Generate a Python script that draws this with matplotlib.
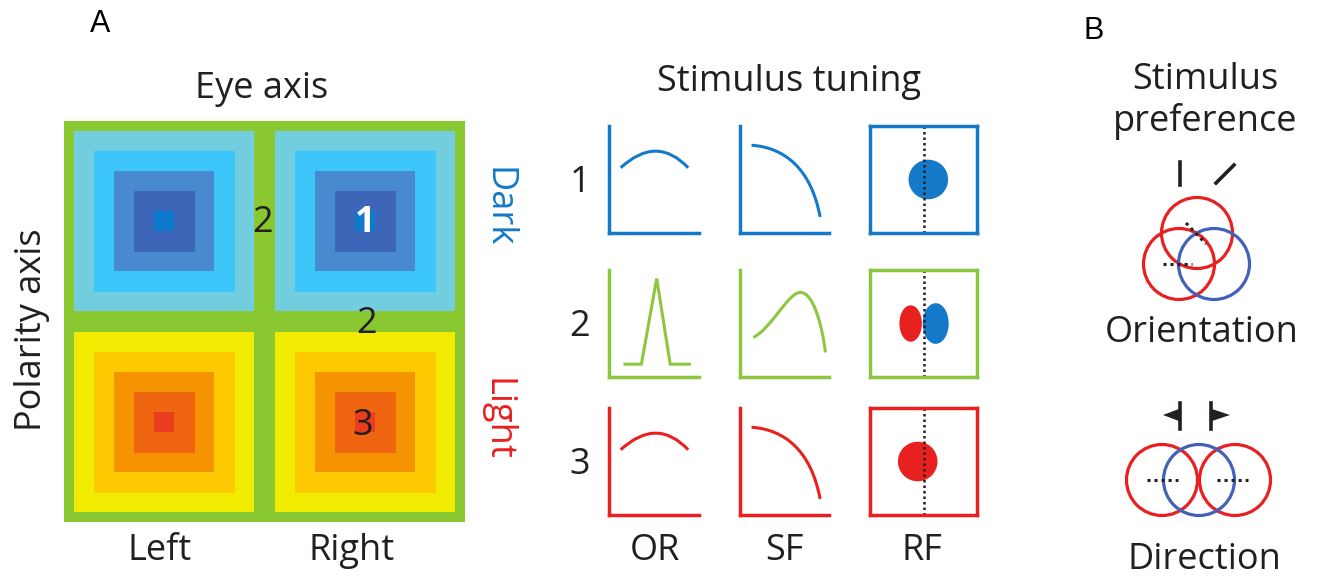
import matplotlib.pyplot as plt
from matplotlib.patches import Rectangle, Circle, Ellipse, Polygon, PathPatch
from matplotlib.path import Path

plt.rcParams['font.family'] = ['Open Sans', 'DejaVu Sans']

W, H = 1319, 578
FS = 26
INK = '#231f20'
BLUE = '#1479c8'
GREEN = '#8dc63f'
RED = '#e8201f'
B_BLUE = '#4262b8'

# nested response zones, outermost first
dark_colors = ['#72cddf', '#3cc6fa', '#4889d0', '#3d65b8', '#0d7bcb']
light_colors = ['#f0eb00', '#fdc900', '#f59300', '#f06510', '#ea3d1e']
eye_labels = ['Left', 'Right']
polarity_labels = ['Dark', 'Light']
cell_tags = ['2', '1', '2', '3']

# tuning sketches, coordinates in percent of each small panel
row_names = ['1', '2', '3']
col_names = ['OR', 'SF', 'RF']
row_colors = [BLUE, GREEN, RED]
or_arc = [(13, 61), (53, 92), (88, 61)]
or_peak = [(16, 12), (36, 12), (53, 92), (68, 12), (91, 12)]
sf_decay = [(13, 82), (50, 80), (80, 60), (90, 15)]
sf_hump = [(15, 37), (35, 45), (55, 80), (68, 79), (82, 79), (92, 50), (96, 23)]
or_curves = [or_arc, or_peak, or_arc]
sf_curves = [sf_decay, sf_hump, sf_decay]
# (x, y, width, height, colour) of the receptive field blobs
rf_blobs = [
    [(54.5, 50, 37, 37, BLUE)],
    [(38, 50, 21, 34, RED), (61.4, 50, 24.3, 38, BLUE)],
    [(44.6, 50, 37, 37, RED)],
]

fig = plt.figure(figsize=(W / 100, H / 100), dpi=100)
ax = fig.add_axes([0, 0, 1, 1])
ax.set_xlim(0, W)
ax.set_ylim(H, 0)
ax.axis('off')

# ---- panel A, left: eye x polarity map
ax.add_patch(Rectangle((64, 121), 401, 401, color='#8ac832', lw=0))
sizes = [180, 141, 100, 61, 20]
centers = [(164, 221), (365, 221), (164, 422), (365, 422)]
for i, (cx, cy) in enumerate(centers):
    cols = dark_colors if i < 2 else light_colors
    for s, c in zip(sizes, cols):
        ax.add_patch(Rectangle((cx - s / 2, cy - s / 2), s, s, color=c, lw=0))

tag_pos = [(263, 223), (365, 223), (367, 324), (363, 426)]
for (x, y), t in zip(tag_pos, cell_tags):
    white = t == '1'
    ax.text(x, y, t, ha='center', va='center', fontsize=FS,
            color='white' if white else INK, fontweight='bold' if white else 'normal')

ax.text(262, 89, 'Eye axis', ha='center', va='center', fontsize=FS, color=INK)
ax.text(32, 330, 'Polarity axis', ha='center', va='center', fontsize=FS, color=INK, rotation=90)
for x, t in zip([160, 352], eye_labels):
    ax.text(x, 551, t, ha='center', va='center', fontsize=FS, color=INK)
for y, t, c in zip([207, 419], polarity_labels, [BLUE, RED]):
    ax.text(497, y, t, ha='center', va='center', fontsize=FS, color=c, rotation=-90)
ax.text(100, 24, 'A', ha='center', va='center', fontsize=22, color='black',
        family='Liberation Sans')
ax.text(1094, 31, 'B', ha='center', va='center', fontsize=22, color='black',
        family='Liberation Sans')

# ---- panel A, right: stimulus tuning
ax.text(789, 82, 'Stimulus tuning', ha='center', va='center', fontsize=FS, color=INK)
row_tops = [126, 270, 408]
for y, t in zip(row_tops, row_names):
    ax.text(580, y + 57, t, ha='center', va='center', fontsize=FS, color=INK)
for x, t in zip([655, 784, 922], col_names):
    ax.text(x, 551, t, ha='center', va='center', fontsize=FS, color=INK)


def curve_path(pts):
    if len(pts) == 3:
        codes = [Path.MOVETO, Path.CURVE3, Path.CURVE3]
    elif len(pts) == 5:
        codes = [Path.MOVETO] + [Path.LINETO] * 4
    else:
        codes = [Path.MOVETO] + [Path.CURVE4] * (len(pts) - 1)
    return Path(pts, codes)


def small_axes(x, y, w, h):
    a = fig.add_axes([x / W, 1 - (y + h) / H, w / W, h / H])
    a.set_xlim(0, 100)
    a.set_ylim(0, 100)
    a.set_xticks([])
    a.set_yticks([])
    a.patch.set_alpha(0)
    return a


for r in range(3):
    col = row_colors[r]
    top = row_tops[r]
    for c, (x0, w, curves) in enumerate([(609, 90, or_curves), (740, 89, sf_curves)]):
        a = small_axes(x0, top, w, 107)
        for side in ['top', 'right']:
            a.spines[side].set_visible(False)
        for side in ['left', 'bottom']:
            a.spines[side].set_color(col)
            a.spines[side].set_linewidth(2.5)
        a.add_patch(PathPatch(curve_path(curves[r]), fc='none', ec=col, lw=2.2,
                              capstyle='butt'))
    a = small_axes(870, top, 107, 107)
    for s in a.spines.values():
        s.set_color(col)
        s.set_linewidth(2.5)
    for bx, by, bw, bh, bc in rf_blobs[r]:
        a.add_patch(Ellipse((bx, by), bw, bh, color=bc, lw=0))
    a.plot([50, 50], [0, 100], color=INK, lw=1.8, ls=(0, (1, 1.2)))

# ---- panel B: stimulus preference
ax.text(1205, 80, 'Stimulus', ha='center', va='center', fontsize=FS, color=INK)
ax.text(1205, 121, 'preference', ha='center', va='center', fontsize=FS, color=INK)
ax.text(1202, 333, 'Orientation', ha='center', va='center', fontsize=FS, color=INK)
ax.text(1204, 560, 'Direction', ha='center', va='center', fontsize=FS, color=INK)

# orientation bars
ax.plot([1180, 1180], [162, 185], color=INK, lw=2.6)
ax.plot([1216, 1234], [183, 165], color=INK, lw=2.6)
for cx, cy, c in [(1197, 233, RED), (1179, 264, RED), (1214, 264, B_BLUE)]:
    ax.add_patch(Circle((cx, cy), 35.5, fc='none', ec=c, lw=2.3))
ax.plot([1163, 1192], [264, 264], color=INK, lw=2.2, ls=(0, (1, 1.3)))
ax.plot([1186, 1206], [223, 244], color=INK, lw=2.2, ls=(0, (1, 1.3)))

# direction arrows
ax.plot([1180, 1180], [403, 429], color=INK, lw=2.6)
ax.add_patch(Polygon([(1163, 415), (1179, 409), (1179, 421)], color=INK, lw=0))
ax.plot([1211, 1211], [403, 429], color=INK, lw=2.6)
ax.add_patch(Polygon([(1230, 415), (1212, 409), (1212, 421)], color=INK, lw=0))
for cx, c in [(1162, RED), (1235, RED), (1199, B_BLUE)]:
    ax.add_patch(Circle((cx, 480), 35.5, fc='none', ec=c, lw=2.3))
ax.plot([1147, 1178], [480, 480], color=INK, lw=2.2, ls=(0, (1, 1.3)))
ax.plot([1217, 1248], [480, 480], color=INK, lw=2.2, ls=(0, (1, 1.3)))

fig.savefig('out.png', dpi=100)
